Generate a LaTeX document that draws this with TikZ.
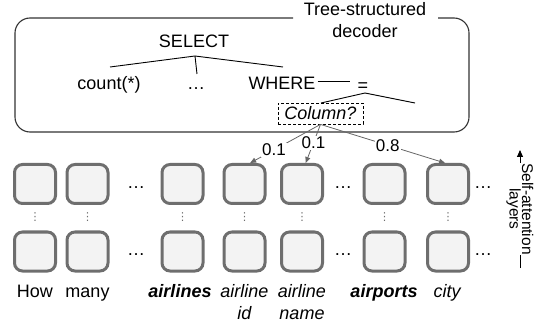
\documentclass[tikz,border=0pt]{standalone}
\usepackage{fontspec}
\setmainfont{Liberation Sans}
\newfontfamily\dvsans{DejaVu Sans}
\usetikzlibrary{arrows.meta}
\definecolor{boxgray}{HTML}{6E6E6E}
\definecolor{boxfill}{HTML}{F3F3F3}
\definecolor{arrgray}{HTML}{666666}
\definecolor{decgray}{HTML}{333333}
\begin{document}
\begin{tikzpicture}[x=1pt,y=-1pt,
  font=\fontsize{18}{22}\selectfont,
  tok/.style={draw=boxgray, fill=boxfill, line width=3pt, rounded corners=8pt,
    minimum width=41pt, minimum height=39pt, inner sep=0pt},
  word/.style={anchor=base, inner sep=0pt},
  wordtwo/.style={anchor=north, inner sep=0pt, align=center},
  hdots/.style={anchor=base, inner sep=0pt},
  vdotsnode/.style={inner sep=0pt, text=boxgray, font=\dvsans\fontsize{11}{11}\selectfont},
  decbox/.style={draw=decgray, line width=1.1pt, rounded corners=15pt},
  treeline/.style={draw=black, line width=0.9pt},
  arr/.style={draw=arrgray, line width=0.8pt, -{Triangle[length=6pt,width=5pt]}},
  weight/.style={fill=white, inner sep=1pt, font=\fontsize{17}{20}\selectfont},
]
\useasboundingbox (0,0) rectangle (538,331);

% decoder box
\draw[decbox] (438,18) -- (469,18) -- (469,132) -- (15,132) -- (15,18) -- (293,18);
\node[align=center, inner sep=0pt] (dectitle) at (365,20) {Tree-structured\\decoder};

% tree nodes
\node[word] (sel) at (194,48) {SELECT};
\node[word] (cnt) at (109,90) {count(*)};
\node[word] (dd) at (196,90) {…};
\node[word] (where) at (282,90) {WHERE};
\node[word, inner sep=2pt] (eq) at (363,92) {=};
\node[draw=black, dashed, dash pattern=on 3pt off 2pt, line width=0.8pt,
  minimum width=85pt, minimum height=21pt, inner sep=0pt,
  font=\fontsize{18}{22}\selectfont\itshape] (col) at (320.5,113.5) {Column?};

\coordinate (sa) at (195,56);
\coordinate (sl) at (110,67);
\coordinate (sm) at (197,74);
\coordinate (sr) at (283,67);
\draw[treeline] (sa) -- (sl);
\draw[treeline] (sa) -- (sm);
\draw[treeline] (sa) -- (sr);
\coordinate (ea) at (365,93);
\coordinate (el) at (321,103);
\coordinate (er) at (415,103);
\draw[treeline] (ea) -- (el);
\draw[treeline] (ea) -- (er);
\coordinate (wend) at (350,81);
\draw[treeline] (where.east |- wend) ++(2,0) -- (wend);

% token boxes
\foreach \i/\x in {1/35,2/87.5,3/182.5,4/244.5,5/302,6/384.5,7/448}{
  \node[tok] (t\i) at (\x,184) {};
  \node[tok] (b\i) at (\x,251.5) {};
  \node[vdotsnode] (v\i) at (\x,217.5) {⋮};
}
\node[hdots] (h1) at (136,189) {…};
\node[hdots] (h2) at (136,255) {…};
\node[hdots] (h3) at (343,189) {…};
\node[hdots] (h4) at (343,255) {…};
\node[hdots] (h5) at (483,189) {…};
\node[hdots] (h6) at (483,255) {…};

% words
\node[word] (w1) at (35,297) {How};
\node[word] (w2) at (87.5,297) {many};
\node[word, font=\fontsize{18}{22}\selectfont\bfseries\itshape] (w3) at (180,297) {airlines};
\node[wordtwo, font=\fontsize{18}{22}\selectfont\itshape] (w4) at (244.5,284) {airline\\id};
\node[wordtwo, font=\fontsize{18}{22}\selectfont\itshape] (w5) at (302,284) {airline\\name};
\node[word, font=\fontsize{18}{22}\selectfont\bfseries\itshape] (w6) at (384,297) {airports};
\node[word, font=\fontsize{18}{22}\selectfont\itshape] (w7) at (447,297) {city};

% attention arrows
\draw[arr] (col.south) -- node[weight, pos=0.66] {0.1} (t4.75);
\draw[arr] (col.south) -- node[weight, pos=0.48] {0.1} (t5.80);
\draw[arr] (col.south) -- node[weight, pos=0.54] {0.8} (t7.98);

% self-attention layers
\coordinate (lbot) at (520,268);
\coordinate (ltop) at (520,150);
\draw[line width=0.9pt, -{Triangle[length=7pt,width=6pt]}] (lbot) -- node[fill=white, inner sep=0.5pt, rotate=-90, align=center,
  pos=0.5, font=\fontsize{15.5}{12.5}\selectfont] {Self-attention\\layers} (ltop);
\end{tikzpicture}
\end{document}
